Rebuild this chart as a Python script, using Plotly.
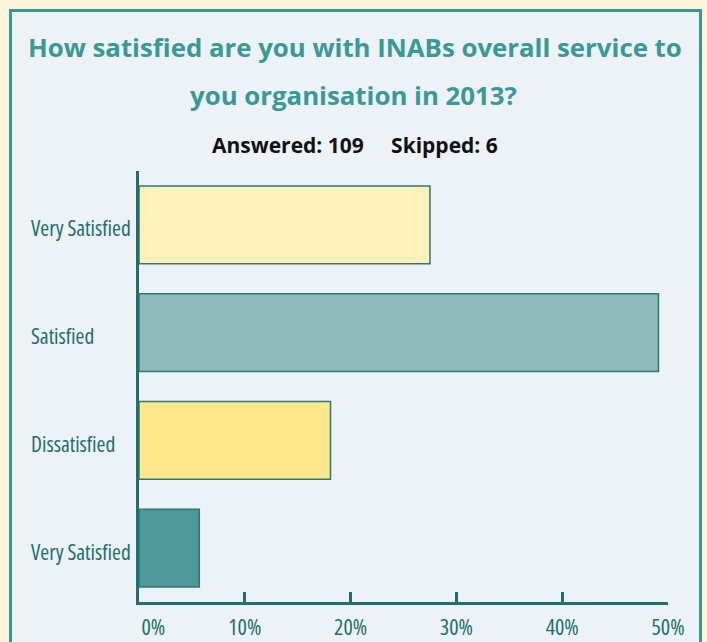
import plotly.graph_objects as go

categories = ["Very Satisfied", "Satisfied", "Dissatisfied", "Very Satisfied"]
values = [27.5, 49.1, 18.1, 5.7]
bar_colors = ["#fdf0b8", "#8fbabb", "#fde88c", "#4e9a9a"]
tick_vals_x = [0, 10, 20, 30, 40, 50]
tick_text_x = ["\u00a0" * 7 + "0%", "10%", "20%", "30%", "40%", "50%"]

title_lines = ["How satisfied are you with INABs overall service to",
               "you organisation in 2013?"]
subtitle_text = "Answered: 109\u00a0\u00a0\u00a0\u00a0\u00a0Skipped: 6"

W, H = 707, 642
L, R, T, B = 139, 39, 171, 40
pw, ph = W - L - R, H - T - B

n = len(categories)
ypos = [n - 1 - i for i in range(n)]

FONT = "Open Sans, Roboto, sans-serif"
TEAL = "#1f6f6d"

fig = go.Figure()
fig.add_trace(go.Bar(
    x=values, y=ypos, orientation="h", width=0.72,
    marker=dict(color=bar_colors, line=dict(color="#2a7a76", width=1.5)),
    hoverinfo="x",
))

def px2paper_x(px):
    return (px - L) / pw

def px2paper_y(py):
    return (H - B - py) / ph

fig.add_shape(type="rect", xref="paper", yref="paper",
              x0=px2paper_x(10.5), x1=px2paper_x(700.5),
              y0=px2paper_y(660), y1=px2paper_y(10.5),
              fillcolor="#ecf2f5", line=dict(color="#3a9696", width=3), layer="below")

for text, cy, cx in zip(title_lines, [47, 95], [355, 353]):
    fig.add_annotation(text="<b>" + text + "</b>", xref="paper", yref="paper",
                       x=px2paper_x(cx), y=px2paper_y(cy), showarrow=False,
                       xanchor="center", yanchor="middle",
                       font=dict(family=FONT, size=25.8, color="#3a9898"))
fig.add_annotation(text="<b>" + subtitle_text + "</b>", xref="paper", yref="paper",
                   x=px2paper_x(355), y=px2paper_y(145), showarrow=False,
                   xanchor="center", yanchor="middle",
                   font=dict(family=FONT, size=21, color="#111111"))

for cat, yp in zip(categories, ypos):
    fig.add_annotation(text=cat, xref="paper", yref="y",
                       x=px2paper_x(29), y=yp, yshift=-3, showarrow=False,
                       xanchor="left", yanchor="middle", align="left",
                       font=dict(family=FONT, size=21.5, color=TEAL))

fig.update_layout(
    width=W, height=H,
    margin=dict(l=L, r=R, t=T, b=B, pad=0, autoexpand=False),
    paper_bgcolor="#fef6da",
    plot_bgcolor="rgba(0,0,0,0)",
    showlegend=False,
    xaxis=dict(range=[0, 50], tickvals=tick_vals_x, ticktext=tick_text_x,
               showgrid=False, zeroline=False, showline=True, linecolor=TEAL, linewidth=3,
               ticks="inside", ticklen=10, tickwidth=2.5, tickcolor=TEAL,
               tickfont=dict(family=FONT, size=22, color=TEAL), ticklabelstandoff=4,
               fixedrange=True, automargin=False),
    yaxis=dict(range=[-0.5, 3.5], tickvals=ypos, showticklabels=False,
               showgrid=False, zeroline=False, showline=True, linecolor=TEAL, linewidth=3,
               ticks="", fixedrange=True, automargin=False),
)

post = """
document.body.style.margin='0';
document.body.style.background='#fef6da';
document.querySelectorAll('text').forEach(function(t){
  var s = t.textContent || '';
  var st = '75%';
  if (s.indexOf('How satisfied') >= 0 || s.indexOf('organisation') >= 0 || s.indexOf('Answered') >= 0) { st = '100%'; }
  t.style.fontStretch = st;
});
"""
fig.write_html("out.html", post_script=post, config={"displayModeBar": False})
